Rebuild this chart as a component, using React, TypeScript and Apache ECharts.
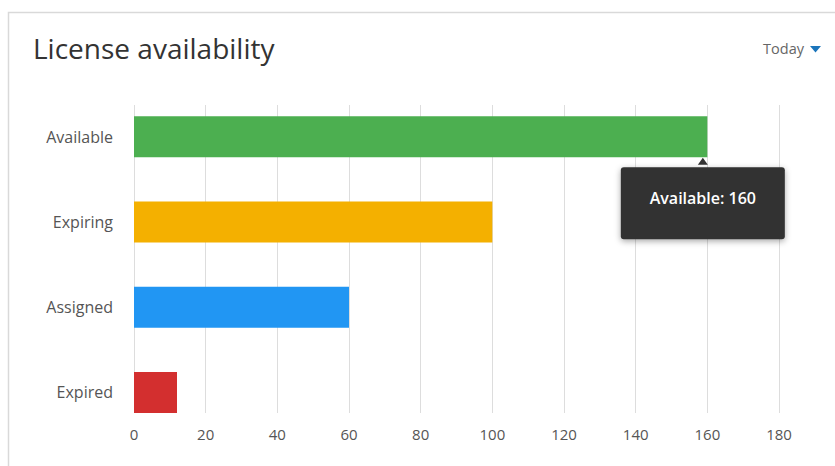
import React, { useEffect, useRef } from "react";
import * as echarts from "echarts";

// License counts by status
const categories: string[] = ["Available", "Expiring", "Assigned", "Expired"];
const counts: number[] = [160, 100, 60, 12];
const barColors: string[] = ["#4caf50", "#f4b000", "#2196f3", "#d32f2f"];
const xTicks = { min: 0, max: 180, interval: 20 };

const FONT = "'Open Sans', 'Noto Sans', sans-serif";

export default function App() {
  const ref = useRef<HTMLDivElement>(null);

  useEffect(() => {
    if (!ref.current) return;
    const chart = echarts.init(ref.current, null, { renderer: "svg" });

    const highlighted = 0;

    chart.setOption({
      animation: false,
      backgroundColor: "#ffffff",
      textStyle: { fontFamily: FONT },
      title: {
        text: "License availability",
        left: 28,
        top: 29,
        textStyle: {
          fontFamily: FONT,
          fontSize: 28,
          fontWeight: "normal",
          color: "#333333",
        },
      },
      graphic: [
        {
          type: "rect",
          silent: true,
          z: -10,
          shape: { x: 8.5, y: 12.5, width: 900, height: 600 },
          style: { fill: "#ffffff", stroke: "#d9d9d9", lineWidth: 1.5 },
        },
        {
          type: "text",
          right: 31,
          top: 41,
          style: {
            text: "Today",
            fontFamily: FONT,
            fontSize: 14.5,
            fill: "#666666",
          },
        },
        {
          type: "polygon",
          shape: {
            points: [
              [810, 46],
              [821, 46],
              [815.5, 52.5],
            ],
          },
          style: { fill: "#1b75bb" },
        },
      ],
      grid: [
        { left: 134, right: 56, top: 105, bottom: 53 },
        { left: 134, right: 56, top: 94, bottom: 31 },
      ],
      xAxis: [
        {
          type: "value",
          gridIndex: 0,
          min: xTicks.min,
          max: xTicks.max,
          interval: xTicks.interval,
          axisLine: { show: false },
          axisTick: { show: false },
          axisLabel: {
            margin: 13,
            fontFamily: FONT,
            fontSize: 15,
            color: "#555555",
          },
          splitLine: { show: true, lineStyle: { color: "#dddddd", width: 1 } },
        },
        {
          type: "value",
          gridIndex: 1,
          min: xTicks.min,
          max: xTicks.max,
          interval: xTicks.interval,
          show: false,
          splitLine: { show: false },
        },
      ],
      yAxis: [
        { type: "value", gridIndex: 0, show: false, splitLine: { show: false } },
        {
          type: "category",
          gridIndex: 1,
          inverse: true,
          data: categories,
          axisLine: { show: false },
          axisTick: { show: false },
          splitLine: { show: false },
          axisLabel: {
            margin: 21,
            fontFamily: FONT,
            fontSize: 16,
            color: "#555555",
          },
        },
      ],
      series: [
        {
          type: "bar",
          xAxisIndex: 1,
          yAxisIndex: 1,
          barWidth: 41,
          data: counts.map((v, i) => ({
            value: v,
            itemStyle: { color: barColors[i] },
          })),
          markPoint: {
            silent: true,
            data: [
              {
                coord: [counts[highlighted], categories[highlighted]],
                symbol: "triangle",
                symbolSize: [10, 7],
                symbolOffset: [-4.5, 24.5],
                itemStyle: { color: "#333333" },
                label: { show: false },
              },
              {
                coord: [counts[highlighted], categories[highlighted]],
                symbol: "circle",
                symbolSize: 0,
                itemStyle: { color: "rgba(0,0,0,0)" },
                label: {
                  show: true,
                  position: [-4.5, 30.5],
                  formatter: `${categories[highlighted]}: ${counts[highlighted]}`,
                  fontFamily: FONT,
                  fontSize: 16,
                  fontWeight: 600,
                  lineHeight: 18,
                  color: "#ffffff",
                  width: 164,
                  align: "center",
                  padding: [22, 0, 32, 0],
                  backgroundColor: "#333333",
                  borderRadius: 3,
                  shadowBlur: 6,
                  shadowColor: "rgba(0,0,0,0.35)",
                  shadowOffsetY: 2,
                },
              },
            ],
          },
        },
      ],
    });

    return () => chart.dispose();
  }, []);

  return (
    <div
      ref={ref}
      style={{ position: "fixed", left: 0, top: 0, width: 835, height: 466 }}
    />
  );
}
